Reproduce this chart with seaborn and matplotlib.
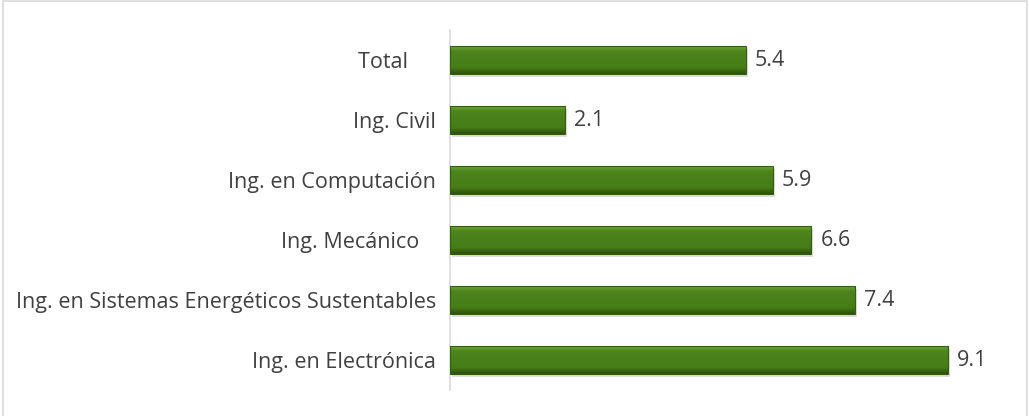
import matplotlib
matplotlib.use("Agg")
import matplotlib.pyplot as plt
import seaborn as sns
import numpy as np
import pandas as pd
from matplotlib.patches import Rectangle
from matplotlib.colors import LinearSegmentedColormap

carreras = [
    "Total     ",
    "Ing. Civil",
    "Ing. en Computación",
    "Ing. Mecánico   ",
    "Ing. en Sistemas Energéticos Sustentables",
    "Ing. en Electrónica",
]
valores = [5.4, 2.1, 5.9, 6.6, 7.4, 9.1]

df = pd.DataFrame({"carrera": carreras, "valor": valores})

sns.set_theme(style="white")
plt.rcParams["font.family"] = ["Open Sans", "DejaVu Sans"]

fig = plt.figure(figsize=(10.29, 4.16), dpi=100)
ax = fig.add_axes([450 / 1029, 1 - 390 / 416, 590 / 1029, 360 / 416])

sns.barplot(data=df, x="valor", y="carrera", orient="h", color="#4a8018",
            width=0.47, ax=ax, saturation=1)

# bevelled fill: light rim on top, flat body, darker rim at the bottom
bevel = LinearSegmentedColormap.from_list(
    "bevel",
    [(0.0, "#6fa83a"), (0.12, "#5c9628"), (0.22, "#4c831b"),
     (0.78, "#477d17"), (0.88, "#3a6a10"), (1.0, "#2c520a")])
for p in ax.patches:
    x0, y0 = p.get_x(), p.get_y()
    w, h = p.get_width(), p.get_height()
    ax.add_patch(Rectangle((x0 + 0.04, y0 + 0.05), w, h, facecolor="#000000",
                           alpha=0.13, edgecolor="none", zorder=1))
    img = ax.imshow(np.linspace(0, 1, 64).reshape(-1, 1), cmap=bevel,
                    extent=(x0, x0 + w, y0 + h, y0), aspect="auto",
                    origin="upper", zorder=2)
    img.set_clip_path(p)
    p.set_zorder(3)
    p.set_facecolor("none")
    p.set_edgecolor("#34600c")
    p.set_linewidth(0.8)

for i, v in enumerate(valores):
    ax.annotate(f"{v:.1f}", xy=(v, i), xytext=(6.5, 0),
                textcoords="offset points", va="center", ha="left",
                fontsize=15.5, color="#404040")

ax.set_xlim(0, 10.78)
ax.set_ylim(5.5, -0.5)
ax.set_xlabel("")
ax.set_ylabel("")
ax.set_xticks([])
for s in ["top", "right", "bottom"]:
    ax.spines[s].set_visible(False)
ax.spines["left"].set_color("#d9d9d9")
ax.spines["left"].set_linewidth(1.2)
ax.tick_params(axis="y", length=0, pad=10, labelsize=15.5, labelcolor="#404040")

fig.patches.append(Rectangle((3 / 1029, -0.05), 1 - 5 / 1029, 1.047,
                             transform=fig.transFigure, fill=False,
                             edgecolor="#d9d9d9", linewidth=1.2))

fig.savefig("out.png", dpi=100, facecolor="white")
